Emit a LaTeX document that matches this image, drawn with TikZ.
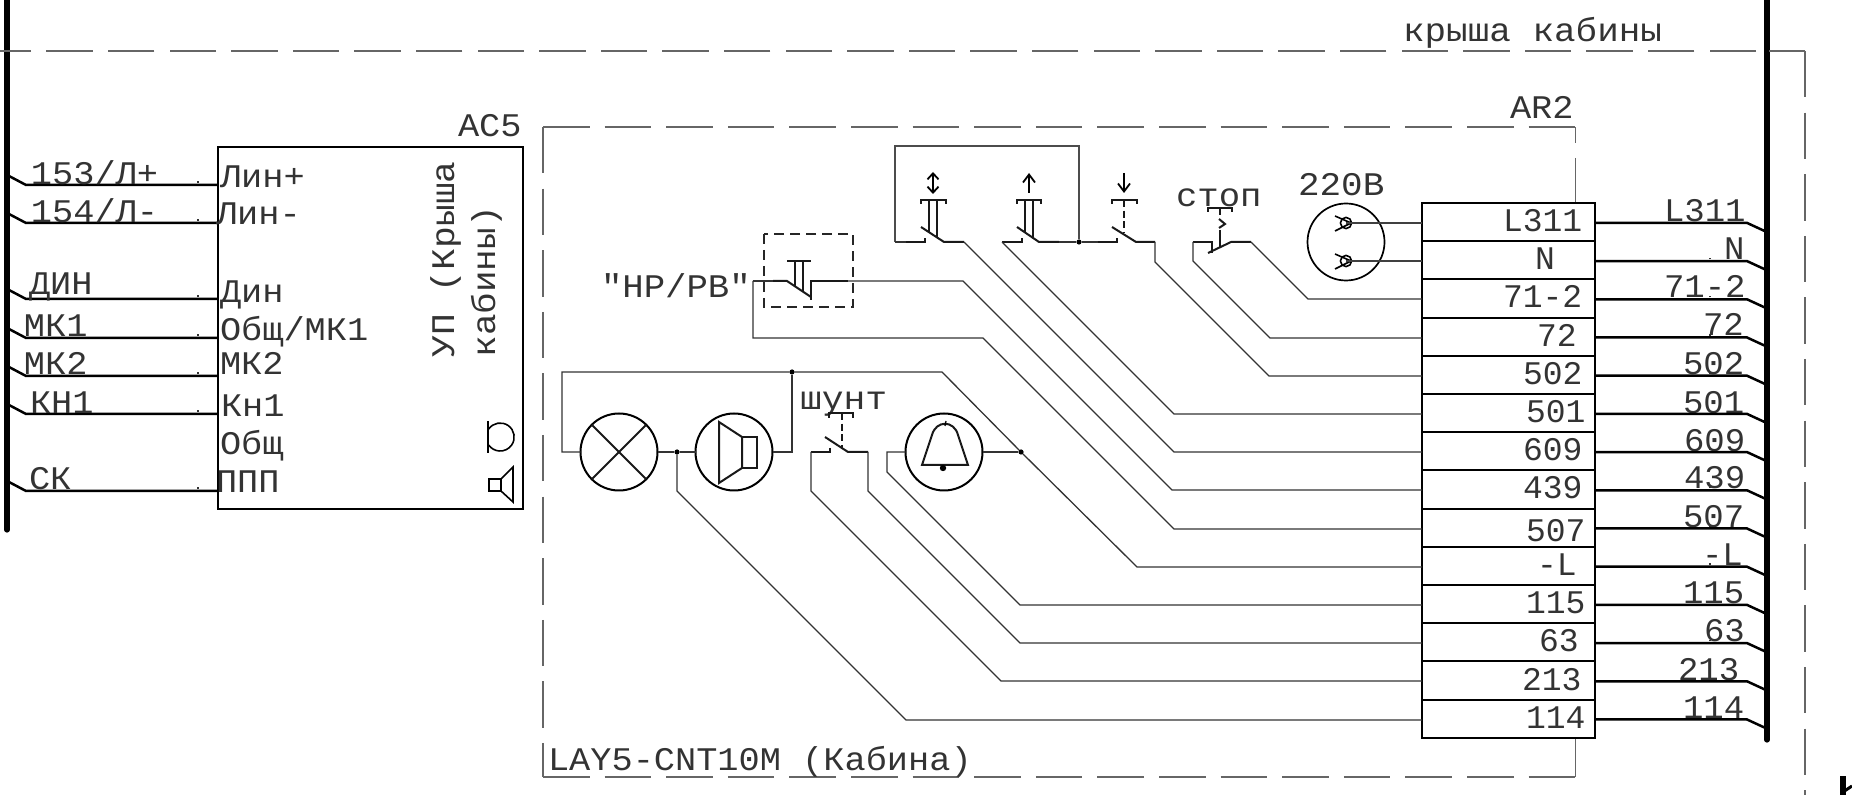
\documentclass[tikz,border=0pt]{standalone}
\usepackage{fontspec}
\newfontfamily\lf{Liberation Mono}
\usetikzlibrary{arrows.meta}
\tikzset{
  thinw/.style={line width=.65pt,draw=black!80},
  symb/.style={line width=1pt,draw=black!90},
  heavy/.style={line width=1.25pt,draw=black},
  bus/.style={line width=2.6pt,draw=black,line cap=round},
  frameline/.style={line width=.7pt,draw=black!60},
  framedash/.style={frameline,dash pattern=on 23.25pt off 7.55pt},
  lab/.style={inner sep=0pt,outer sep=0pt,anchor=base west,yshift=-.7pt,text=black!80,font=\lf\fontsize{16.5pt}{18pt}\selectfont},
  wide/.style={xscale=1.07},
  cell/.style={draw=black,line width=1pt,minimum width=86.5pt,minimum height=19.1pt,inner sep=0pt,outer sep=0pt},
  rnd/.style={circle,draw=black,line width=1pt,minimum size=38.5pt,inner sep=0pt,outer sep=0pt},
  dot/.style={circle,fill=black,minimum size=2.6pt,inner sep=0pt,outer sep=0pt},
  stem/.style={symb,dash pattern=on 3.5pt off 1.8pt},
  barb/.style={line width=.9pt,-{Straight Barb[length=4pt,width=6pt]}},
  dbarb/.style={line width=.9pt,{Straight Barb[length=3pt,width=5.5pt]}-{Straight Barb[length=3pt,width=5.5pt]}}
}
\begin{document}
\begin{tikzpicture}[x=.5pt,y=-.5pt]
\useasboundingbox (0,0) rectangle (1852,795);
% buses
\coordinate (busLt) at (7,0); \coordinate (busLb) at (7,530);
\coordinate (busRt) at (1767,0); \coordinate (busRb) at (1767,740);
\draw[bus] (busLt) -- (busLb);
\draw[bus] (busRt) -- (busRb);
% outer dashed
\coordinate (oa) at (1756,51); \coordinate (ob) at (0,51);
\coordinate (oc) at (1769,51); \coordinate (od) at (1805,51); \coordinate (oe) at (1805,795);
\draw[framedash] (oa) -- (ob);
\draw[frameline] (oc) -- (od);
\draw[framedash] (od) -- (oe);
\node[lab,xscale=1.09] (roof) at (1403,40) {крыша кабины};
% AR2 frame
\coordinate (fa) at (543,127); \coordinate (fb) at (1575.5,127); \coordinate (fc) at (543,777); \coordinate (fd) at (1575.5,777);
\draw[framedash] (fa) -- (fb);
\draw[framedash] (fa) -- (fc);
\draw[framedash] (fc) -- (fd);
\coordinate (fe) at (1575.5,143); \coordinate (ff) at (1575.5,158); \coordinate (fg) at (1575.5,203); \coordinate (fh) at (1575.5,739);
\draw[frameline] (fb) -- (fe);
\draw[frameline] (ff) -- (fg);
\draw[frameline] (fh) -- (fd);
\node[lab,wide] (ar2) at (1510,117) {AR2};
\node[lab,xscale=1.07] (lay) at (548,769) {LAY5-CNT10M (Кабина)};
% AC5 block
\node[draw=black,line width=.9pt,minimum width=152.5pt,minimum height=181pt,inner sep=0pt,outer sep=0pt] (ac5) at (370.5,328) {};
\node[lab,wide] (ac5t) at (458,135) {AC5};
\foreach \n/\y/\t/\lx/\ly/\ix/\iy/\it in {
  a/185/153\slash Л+/31/183/220/186/Лин+,
  b/223/154\slash Л-/31/221/216/223/Лин-,
  c/299/ДИН/29/293/220/301/Дин,
  d/338/МК1/24/335/220/339/Общ\slash МК1,
  e/376/МК2/24/373/220/373/МК2,
  f/414/КН1/30/412/221/415/Кн1,
  g/491/СК/29/488/216/491/ППП}{
  \coordinate (w\n a) at (9,\y-9);
  \coordinate (w\n b) at (26,\y);
  \coordinate (w\n c) at (218,\y);
  \coordinate (w\n t) at (198,\y-2);
  \draw[heavy] (w\n a) -- (w\n b) -- (w\n c);
  \draw[thinw] (w\n t) -- +(0,-1.5);
  \node[lab,wide] (wl\n) at (\lx,\ly) {\t};
  \node[lab,wide] (il\n) at (\ix,\iy) {\it};
}
\node[lab,wide] (ob) at (220,453) {Общ};
\node[lab,rotate=90,xscale=1.1] (up) at (454,356) {УП (Крыша};
\node[lab,rotate=90,xscale=1.09] (kab) at (495,356) {кабины)};
% AC5 symbols
\coordinate (bz1) at (488,421); \coordinate (bz2) at (488,453);
\draw[line width=.8pt] (bz1) -- (bz2);
\draw[line width=.8pt] (488.7,429) arc[start angle=-145,end angle=145,radius=14];
\draw[line width=.8pt] (489,479) rectangle (501,491);
\draw[line width=.8pt] (501,479) -- (513,467) -- (513,502) -- (501,491);
% terminal block
\foreach \i/\t/\x/\b/\rx/\rb in {
 0/L311/1503/232/1664/221,
 1/N/1535/270/1724/259,
 2/71-2/1503/308/1664/297,
 3/72/1537/347/1703/335,
 4/502/1523/385/1683/374,
 5/501/1526/423/1683/413,
 6/609/1523/461/1684/451,
 7/439/1523/499/1684/488,
 8/507/1526/542/1683/527,
 9/-L/1537/576/1702/565,
 10/115/1526/614/1683/603,
 11/63/1539/652/1704/641,
 12/213/1522/691/1678/680,
 13/114/1526/729/1683/718}{
  \pgfmathsetmacro\cy{222.1+38.2*\i}
  \node[cell] (r\i) at (1508.5,\cy) {};
  \node[lab,yshift=.7pt] (rt\i) at (\x,\b) {\t};
  \node[lab,yshift=.35pt,xscale=1.03] (ot\i) at (\rx,\rb) {\t};
  \coordinate (q\i) at (1747,\cy+.8);
  \coordinate (s\i) at (1765,\cy+9.1);
  \coordinate (u\i) at (1710,\cy-1);
  \draw[heavy] (r\i.east |- q\i) -- (q\i) -- (s\i);
  \draw[thinw] (u\i) -- +(0,-1.5);
}
% socket
\node[lab,xscale=1.09] (v220) at (1298,194) {220В};
\node[circle,draw=black,line width=.85pt,minimum size=38.5pt,inner sep=0pt] (sock) at (1346,242) {};
\foreach \n/\y/\r in {p/223/0,m/261/1}{
  \node[circle,draw=black,line width=.8pt,minimum size=5.6pt,inner sep=0pt,outer sep=0pt] (so\n) at (1346,\y) {};
  \draw[line width=.8pt] (1335,\y-7) -- (1351,\y) -- (1335,\y+8);
  \coordinate (sk\n) at (1346,\y);
  \draw[line width=.55pt,draw=black!75] (sk\n) -- (r\r.west |- sk\n);
}
% switches top
\coordinate (c1) at (895,242); \coordinate (c2) at (895,146); \coordinate (c3) at (1079,146);
\node[dot] (j1) at (1079,242) {};
\draw[line width=.6pt,draw=black!70] (c1) -- (c2) -- (c3) -- (j1);
% switch 1
\coordinate (a1) at (925,242); \coordinate (a2) at (925,238); \coordinate (a3) at (906,242);
\coordinate (a4) at (921,227); \coordinate (a5) at (944,242); \coordinate (a6) at (964,242); \coordinate (a7) at (1174,452);
\draw[thinw] (c1) -- (a3);
\draw[symb] (a3) -- (a1) -- (a2);
\draw[symb] (a4) -- (a5) -- (a6);
\draw[thinw] (a6) -- (a7) -- (r6.west |- a7);
\draw[symb] (921,204) -- (921,200) -- (946,200) -- (946,204);
\draw[symb] (929,200) -- (929,232);
\draw[symb] (937,200) -- (937,237);
\draw[dbarb] (933,172) -- (933,194);
% switch 2
\coordinate (b0) at (1002,242); \coordinate (b1) at (1022,242); \coordinate (b2) at (1022,238);
\coordinate (b4) at (1017,227); \coordinate (b5) at (1039,242); \coordinate (b6) at (1059,242); \coordinate (b7) at (1174,414);
\draw[symb] (b0) -- (b1) -- (b2);
\draw[symb] (b4) -- (b5) -- (b6);
\draw[thinw] (b6) -- (j1);
\draw[thinw] (b0) -- (b7) -- (r5.west |- b7);
\draw[symb] (1017,204) -- (1017,200) -- (1041,200) -- (1041,204);
\draw[symb] (1025,200) -- (1025,232);
\draw[symb] (1033,200) -- (1033,237);
\draw[barb] (1029,193) -- (1029,173);
% switch 3
\coordinate (d0) at (1098,242); \coordinate (d1) at (1117,242); \coordinate (d2) at (1117,238);
\coordinate (d4) at (1112,227); \coordinate (d5) at (1136,242); \coordinate (d6) at (1155,242); \coordinate (d7) at (1155,262); \coordinate (d8) at (1269,376);
\draw[thinw] (j1) -- (d0);
\draw[symb] (d0) -- (d1) -- (d2);
\draw[symb] (d4) -- (d5) -- (d6);
\draw[thinw] (d6) -- (d7) -- (d8) -- (r4.west |- d8);
\draw[symb] (1112,204) -- (1112,200) -- (1137,200) -- (1137,204);
\draw[stem] (1124,200) -- (1124,233);
\draw[barb] (1124,173) -- (1124,193);
% stop switch
\node[lab,xscale=1.08] (stop) at (1176,205) {стоп};
\draw[symb] (1208,212) -- (1208,208) -- (1232,208) -- (1232,212);
\draw[symb] (1220,208) -- (1220,215);
\draw[symb] (1219,219) -- (1225,224) -- (1219,228);
\draw[symb] (1220,230) -- (1220,247);
\coordinate (e1) at (1208,253); \coordinate (e2) at (1231,242); \coordinate (e3) at (1251,242); \coordinate (e4) at (1308,299);
\draw[symb] (e1) -- (e2) -- (e3);
\draw[thinw] (e3) -- (e4) -- (r2.west |- e4);
\coordinate (e5) at (1212,253); \coordinate (e6) at (1212,242); \coordinate (e7) at (1193,242); \coordinate (e8) at (1193,261); \coordinate (e9) at (1270,338);
\draw[symb] (e5) -- (e6) -- (e7);
\draw[thinw] (e7) -- (e8) -- (e9) -- (r3.west |- e9);
% HP/PB
\node[lab,xscale=1.08] (hp) at (601,296) {"HP/PB"};
\draw[black!85,line width=.6pt,dash pattern=on 5pt off 3pt] (764,234) rectangle (853,307);
\coordinate (h0) at (753,281); \coordinate (h1) at (753,338); \coordinate (h2) at (983,338); \coordinate (h3) at (1174,529);
\draw[thinw] (h0) -- (h1) -- (h2) -- (h3) -- (r8.west |- h3);
\coordinate (h4) at (773,281); \coordinate (h5) at (787,281); \coordinate (h6) at (811,297); \coordinate (h7) at (811,300); \coordinate (h8) at (811,281); \coordinate (h9) at (848,281);
\coordinate (h10) at (963,281); \coordinate (h11) at (1172,490);
\draw[thinw] (h0) -- (h4);
\draw[symb] (h4) -- (h5) -- (h6);
\draw[symb] (h7) -- (h8) -- (h9);
\draw[thinw] (h9) -- (h10) -- (h11) -- (r7.west |- h11);
\draw[symb] (787,261) -- (811,261);
\draw[symb] (795,261) -- (795,287);
\draw[symb] (803,261) -- (803,292);
% lamp row
\node[rnd] (lamp) at (619,452) {};
\node[rnd] (spk) at (734,452) {};
\node[rnd] (bell) at (944,452) {};
\draw[symb] (lamp.45) -- (lamp.225);
\draw[symb] (lamp.135) -- (lamp.315);
\node[dot] (j2) at (792,372) {};
\node[dot] (j3) at (677,452) {};
\node[dot] (j4) at (1021,452) {};
\coordinate (l1) at (562,452); \coordinate (l2) at (562,372); \coordinate (l3) at (942,372); \coordinate (l4) at (1137,567);
\draw[thinw] (lamp.west) -- (l1) -- (l2) -- (j2) -- (l3) -- (j4) -- (l4) -- (r9.west |- l4);
\draw[thinw] (lamp.east) -- (j3) -- (spk.west);
\coordinate (l5) at (792,452);
\draw[thinw] (spk.east) -- (l5) -- (j2);
\coordinate (l6) at (677,491); \coordinate (l7) at (906,720);
\draw[thinw] (j3) -- (l6) -- (l7) -- (r13.west |- l7);
\draw[symb] (719,422) -- (719,483) -- (742,468) -- (742,437) -- cycle;
\draw[symb] (742,437) rectangle (757,468);
% shunt
\node[lab,xscale=1.1] (shunt) at (800,408) {шунт};
\draw[symb] (829,418) -- (829,413) -- (853,413) -- (853,418);
\draw[stem] (842,413) -- (842,448);
\coordinate (n1) at (825,437); \coordinate (n2) at (848,452); \coordinate (n3) at (868,452); \coordinate (n4) at (868,491); \coordinate (n5) at (1020,643);
\draw[symb] (n1) -- (n2) -- (n3);
\draw[thinw] (n3) -- (n4) -- (n5) -- (r11.west |- n5);
\coordinate (m1) at (830,448); \coordinate (m2) at (830,452); \coordinate (m3) at (811,452); \coordinate (m4) at (811,491); \coordinate (m5) at (1001,681);
\draw[symb] (m1) -- (m2) -- (m3);
\draw[thinw] (m3) -- (m4) -- (m5) -- (r12.west |- m5);
% bell
\coordinate (g1) at (887,452); \coordinate (g2) at (887,472); \coordinate (g3) at (1020,605);
\draw[thinw] (bell.west) -- (g1) -- (g2) -- (g3) -- (r10.west |- g3);
\draw[thinw] (bell.east) -- (j4);
\draw[symb] (922,465) -- (968,465) -- (958,435) .. controls (954,420) and (936,420) .. (932,435) -- cycle;
\fill (943,468) circle[radius=1.6pt];
\draw[line width=.6pt] (945,426) -- (946,421);
% clipped glyph at the corner
\coordinate (z1) at (1843,776); \coordinate (z2) at (1843,795); \coordinate (z3) at (1843,792); \coordinate (z4) at (1852,786);
\draw[line width=2.6pt] (z1) -- (z2);
\draw[line width=1.5pt] (z3) -- (z4);
\end{tikzpicture}
\end{document}
